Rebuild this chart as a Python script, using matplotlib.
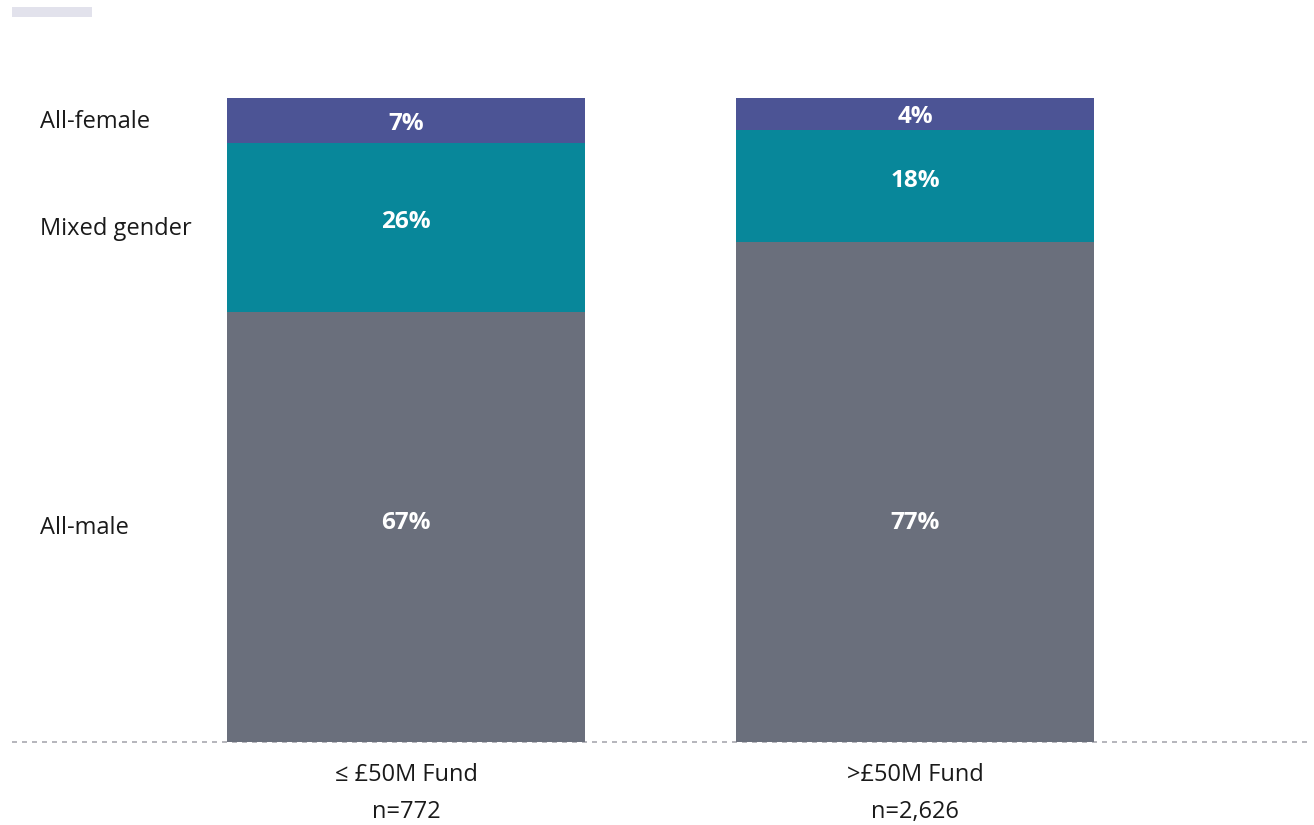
import numpy as np
import matplotlib.pyplot as plt
import matplotlib.transforms as mtransforms

# Data
funds = ["\u2264 \u00a350M Fund", ">\u00a350M Fund"]
sample_sizes = ["n=772", "n=2,626"]
groups = ["All-male", "Mixed gender", "All-female"]
# displayed percentages (bottom -> top)
labels_small = [67, 26, 7]
labels_large = [77, 18, 4]
# segment heights as drawn (bars fill to 100%)
shares_small = [66.8, 26.2, 7.0]
shares_large = [77.6, 17.4, 5.0]

colors = ["#6a6f7c", "#08879a", "#4c5495"]

plt.rcParams['font.family'] = ['Open Sans', 'DejaVu Sans']

W, H = 1314, 825
fig = plt.figure(figsize=(W / 100, H / 100), dpi=100)
fig.patch.set_facecolor('white')

# axes spans the dashed baseline horizontally, bar height vertically
ax = fig.add_axes([12 / W, (H - 742) / H, (1310 - 12) / W, (742 - 98) / H])
ax.set_xlim(-0.774, 1.776)
ax.set_ylim(0, 100)
ax.set_axis_off()

x = np.arange(len(funds))
bar_w = 0.703
shares = np.array([shares_small, shares_large])
labels = np.array([labels_small, labels_large])

bottoms = np.zeros(len(funds))
centers = []
for k in range(len(groups)):
    ax.bar(x, shares[:, k], bottom=bottoms, width=bar_w, color=colors[k],
           linewidth=0, zorder=2)
    centers.append(bottoms + shares[:, k] / 2)
    bottoms = bottoms + shares[:, k]
centers = np.array(centers)

# value labels (the all-male labels share one row)
nudge = [1.1, 1.3, 0.0]
for i in range(len(funds)):
    for k in range(len(groups)):
        yy = centers[k, i] + nudge[k]
        if k == 0:
            yy = centers[0, 0] + nudge[0]
        ax.text(x[i], yy, f"{labels[i, k]}%", ha='center', va='center_baseline',
                color='white', fontsize=17.5, fontweight='bold', zorder=3)

# group names on the left, aligned to the first bar's segments
fig_data = mtransforms.blended_transform_factory(fig.transFigure, ax.transData)
for k, g in enumerate(groups):
    ax.text(40 / W, centers[k, 0] + 0.3, g, transform=fig_data, ha='left',
            va='center_baseline', fontsize=17, color='#1a1a1a')

# dashed baseline
ax.axhline(0, color='#a9a9b0', linestyle=(0, (3, 3)), linewidth=1.2,
           zorder=1, clip_on=False)

# category labels below
for i in range(len(funds)):
    ax.text(x[i], -4.66, funds[i], ha='center', va='center_baseline',
            fontsize=17, color='#1a1a1a', clip_on=False)
    ax.text(x[i], -10.45, sample_sizes[i], ha='center', va='center_baseline',
            fontsize=17, color='#1a1a1a', clip_on=False)

# small grey tab in the top-left corner
fig.patches.append(plt.Rectangle((12 / W, 1 - 17 / H), 80 / W, 10 / H,
                                 transform=fig.transFigure, color='#e2e2ec',
                                 linewidth=0))

fig.savefig('out.png', dpi=100)
